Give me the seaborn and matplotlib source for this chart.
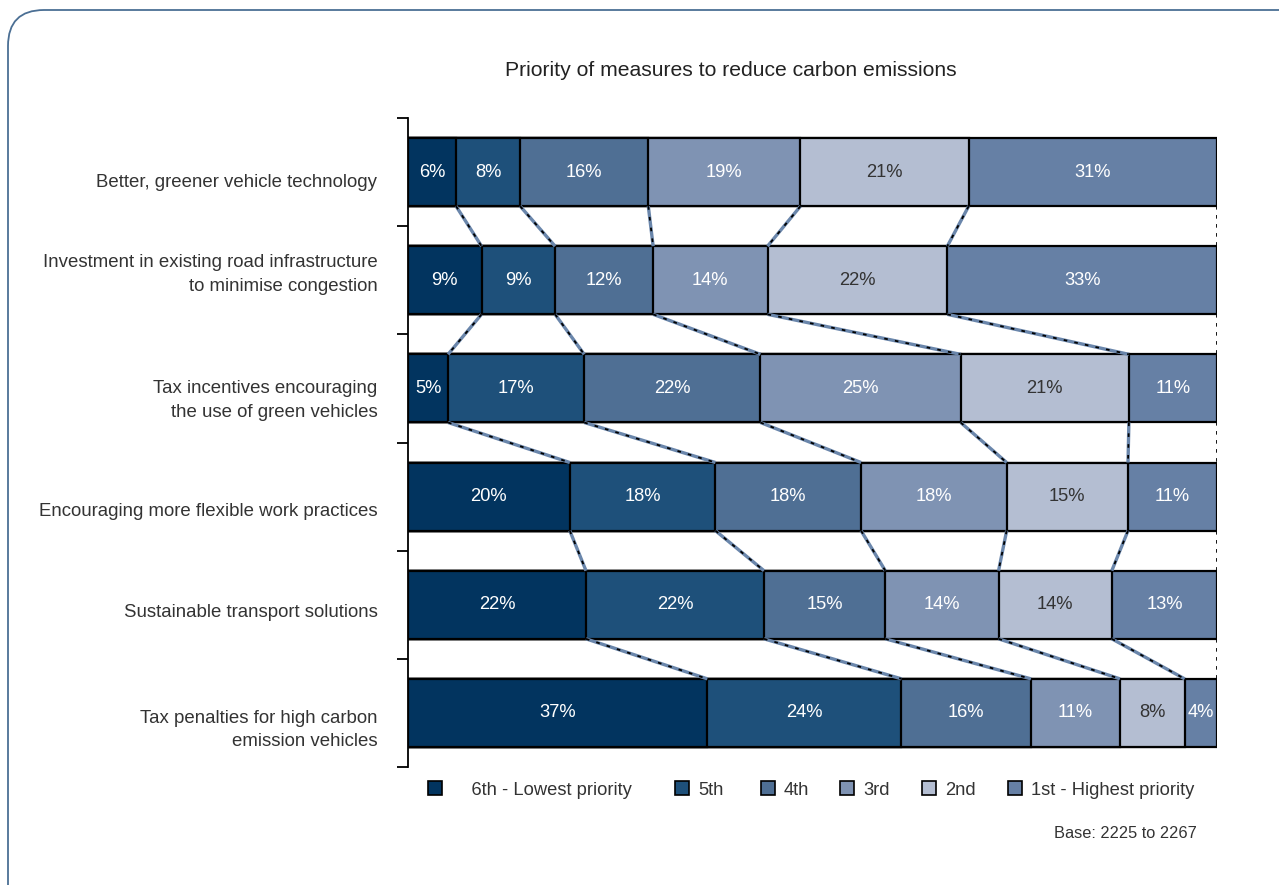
import matplotlib
matplotlib.use("Agg")
import matplotlib.pyplot as plt
import matplotlib.transforms as mtransforms
from matplotlib.patches import FancyBboxPatch, Patch
import numpy as np
import pandas as pd
import seaborn as sns

# ---------------- data ----------------
categories = [
    "Better, greener vehicle technology",
    "Investment in existing road infrastructure\nto minimise congestion",
    "Tax incentives encouraging\nthe use of green vehicles",
    "Encouraging more flexible work practices",
    "Sustainable transport solutions",
    "Tax penalties for high carbon\nemission vehicles",
]
rank_names = ["6th - Lowest priority", "5th", "4th", "3rd", "2nd", "1st - Highest priority"]
p6 = [6, 9, 5, 20, 22, 37]
p5 = [8, 9, 17, 18, 22, 24]
p4 = [16, 12, 22, 18, 15, 16]
p3 = [19, 14, 25, 18, 14, 11]
p2 = [21, 22, 21, 15, 14, 8]
p1 = [31, 33, 11, 11, 13, 4]
colors = ["#02345F", "#1E507A", "#4F6F94", "#7F93B3", "#B4BED2", "#6680A5"]
label_colors = ["white", "white", "white", "white", "#333333", "white"]

title = "Priority of measures to reduce carbon emissions"
base_note = "Base: 2225 to 2267"

# layout only: legend marker x positions (px) and category label vertical nudges
legend_x_px = [428, 675, 761, 840, 922, 1008]
label_nudge = [0.074, -0.10, 0.065, 0.12, 0.056, 0.11]

# ---------------- prep ----------------
vals = np.array([p6, p5, p4, p3, p2, p1], dtype=float)  # rank x category
shares = vals / vals.sum(axis=0) * 100.0
cum = np.cumsum(shares, axis=0)  # right edges

sns.set_theme(style="white")
plt.rcParams["font.family"] = ["Liberation Sans", "DejaVu Sans"]

W, H = 1279, 885
fig = plt.figure(figsize=(W / 100, H / 100), dpi=100)
ax = fig.add_axes([408 / W, 1 - 767 / H, (1217 - 408) / W, (767 - 118) / H])

bar_h = 0.63
# draw cumulative bars from the widest to the narrowest so they overlay
for k in range(len(rank_names) - 1, -1, -1):
    df = pd.DataFrame({"cat": categories, "right": cum[k]})
    sns.barplot(data=df, x="right", y="cat", orient="y", color=colors[k],
                saturation=1, width=bar_h, edgecolor="black", linewidth=1.6,
                ax=ax, zorder=2)

# percentage labels
for k in range(len(rank_names)):
    left = cum[k] - shares[k]
    for i in range(len(categories)):
        ax.text(left[i] + shares[k][i] / 2, i, f"{int(vals[k][i])}%",
                ha="center", va="center", color=label_colors[k],
                fontsize=13.2, zorder=5)

# connectors between consecutive bars
for k in range(len(rank_names)):
    for i in range(len(categories) - 1):
        xs = [cum[k][i], cum[k][i + 1]]
        ys = [i + bar_h / 2, i + 1 - bar_h / 2]
        if k == len(rank_names) - 1:
            ax.plot(xs, ys, color="black", lw=1.3, ls=(0, (2, 3)), zorder=3,
                    solid_capstyle="butt")
        else:
            ax.plot(xs, ys, color="#6A86AB", lw=2.4, zorder=3, solid_capstyle="butt")
            ax.plot(xs, ys, color="black", lw=1.3, ls=(0, (2, 4)), zorder=3)

ax.set_xlim(0, 100)
ax.set_ylim(len(categories) - 0.5, -0.5)
ax.set_xlabel("")
ax.set_ylabel("")
ax.set_xticks([])
bounds = np.arange(-0.5, len(categories), 1.0)
ax.set_yticks(bounds)
ax.set_yticklabels([""] * len(bounds))
ax.set_yticks(np.arange(len(categories)) + np.array(label_nudge),
              labels=categories, minor=True)
ax.tick_params(axis="y", which="major", length=8, width=1.3, direction="out",
               color="black", left=True)
ax.tick_params(axis="y", which="minor", length=0, pad=22, labelsize=13.4,
               labelcolor="#333333")
for lab in ax.get_yticklabels(minor=True):
    lab.set_horizontalalignment("right")
    lab.set_multialignment("right")
    lab.set_linespacing(1.5)
for s in ["top", "right", "bottom"]:
    ax.spines[s].set_visible(False)
ax.spines["left"].set_color("black")
ax.spines["left"].set_linewidth(1.3)
ax.set_facecolor("white")

# legend entries
for k in range(len(rank_names)):
    lbl = ("    " + rank_names[k]) if k == 0 else rank_names[k]
    h = Patch(facecolor=colors[k], edgecolor="black", linewidth=1.2)
    lg = fig.legend([h], [lbl], loc="center left",
                    bbox_to_anchor=(legend_x_px[k] / W, 1 - 790 / H),
                    frameon=False, fontsize=13.2, handlelength=0.75,
                    handleheight=0.75, handletextpad=0.5, borderpad=0,
                    borderaxespad=0)
    for t in lg.get_texts():
        t.set_color("#333333")

fig.text(731 / W, 1 - 71 / H, title, ha="center", va="center",
         fontsize=15.2, color="#222222")
fig.text(1197 / W, 1 - 833 / H, base_note, ha="right", va="center",
         fontsize=11.8, color="#333333")

# rounded frame
frame = FancyBboxPatch((8, -60), 1340, 935,
                       boxstyle="round,pad=0,rounding_size=36",
                       transform=mtransforms.IdentityTransform(),
                       facecolor="none", edgecolor="#4B6F94", linewidth=1.3)
fig.patches.append(frame)

fig.savefig("out.png", dpi=100, facecolor="white")
